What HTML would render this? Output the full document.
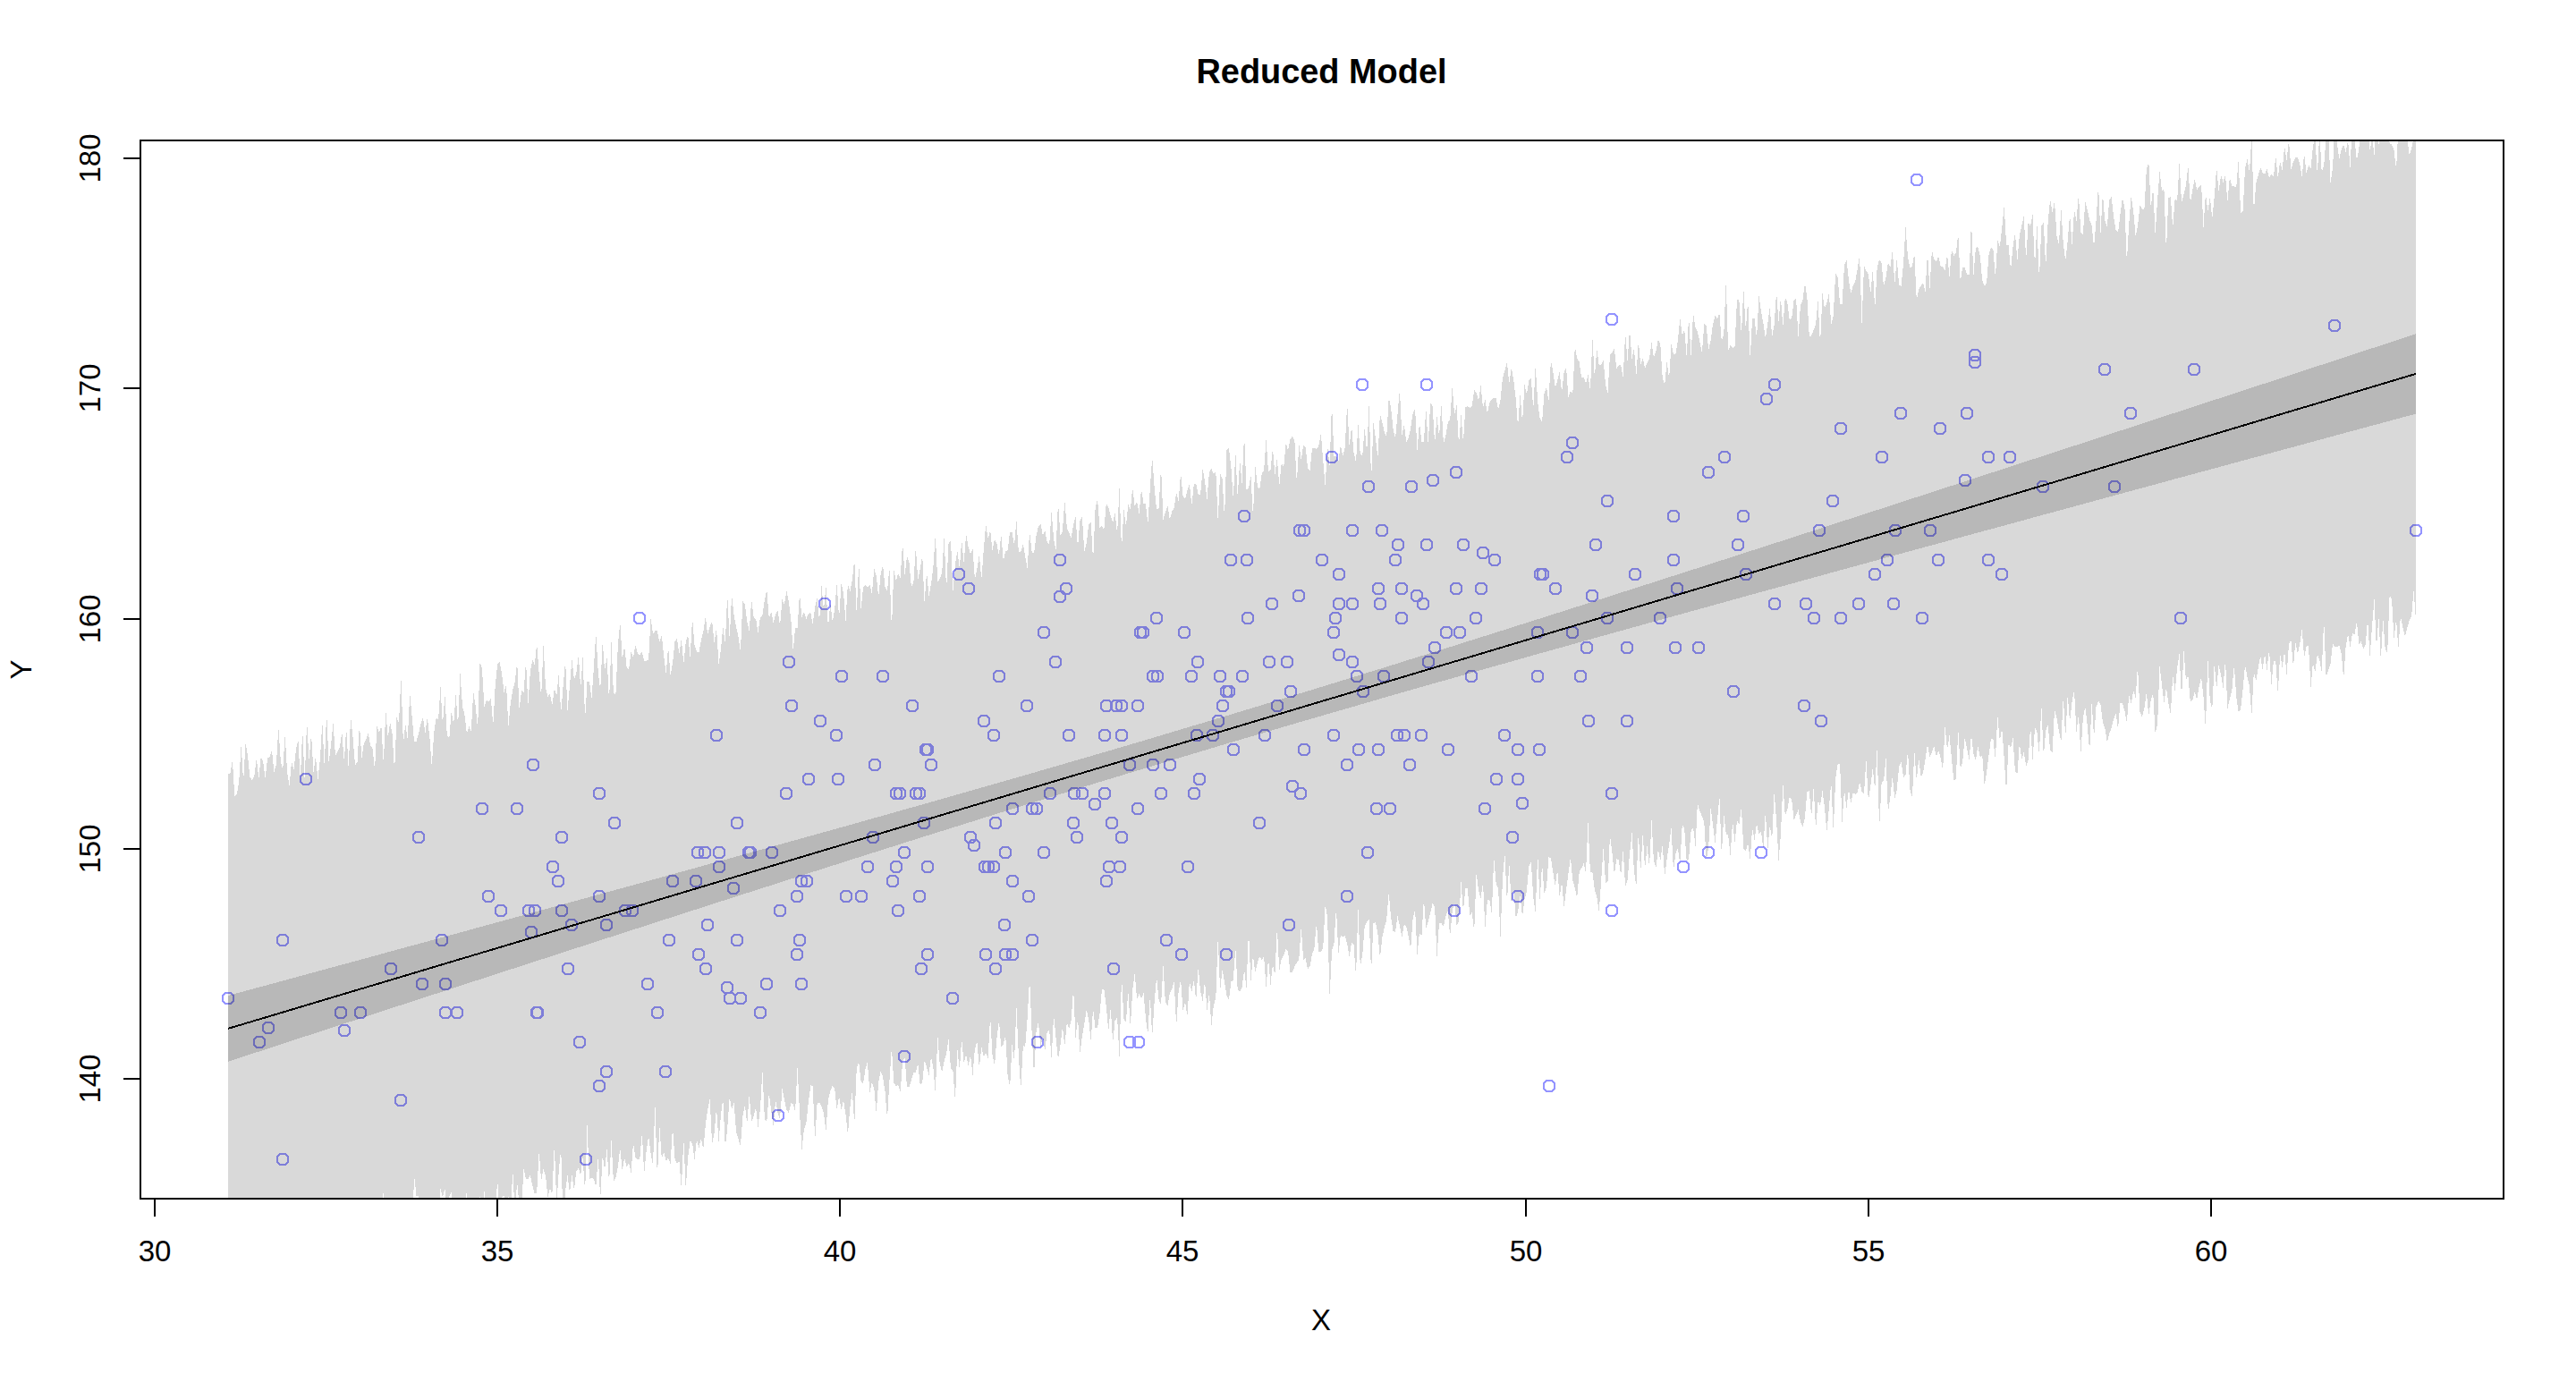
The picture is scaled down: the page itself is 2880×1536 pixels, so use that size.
<!DOCTYPE html><html><head><meta charset="utf-8"><style>html,body{margin:0;padding:0;background:#fff;overflow:hidden}svg{display:block}text{font-family:"Liberation Sans",sans-serif;fill:#000}</style></head><body>
<svg width="2880" height="1536" viewBox="0 0 2880 1536">
<rect width="2880" height="1536" fill="#fff"/>
<defs><clipPath id="cp"><rect x="157" y="157" width="2642" height="1183"/></clipPath></defs>
<path fill="none" stroke="#9494FF" stroke-width="2" shape-rendering="crispEdges" d="M2140,195h6l3,3v6l-3,3h-6l-3-3v-6zM1799,351h6l3,3v6l-3,3h-6l-3-3v-6zM1520,424h6l3,3v6l-3,3h-6l-3-3v-6zM1592,424h6l3,3v6l-3,3h-6l-3-3v-6zM1981,424h6l3,3v6l-3,3h-6l-3-3v-6zM1972,440h6l3,3v6l-3,3h-6l-3-3v-6zM2122,456h6l3,3v6l-3,3h-6l-3-3v-6zM2055,473h6l3,3v6l-3,3h-6l-3-3v-6zM1755,489h6l3,3v6l-3,3h-6l-3-3v-6zM2607,358h6l3,3v6l-3,3h-6l-3-3v-6zM2205,391h6l3,3v6l-3,3h-6l-3-3v-6zM2205,399h6l3,3v6l-3,3h-6l-3-3v-6zM2350,407h6l3,3v6l-3,3h-6l-3-3v-6zM2450,407h6l3,3v6l-3,3h-6l-3-3v-6zM2196,456h6l3,3v6l-3,3h-6l-3-3v-6zM2379,456h6l3,3v6l-3,3h-6l-3-3v-6zM2166,473h6l3,3v6l-3,3h-6l-3-3v-6zM1486,505h6l3,3v6l-3,3h-6l-3-3v-6zM1388,571h6l3,3v6l-3,3h-6l-3-3v-6zM1450,587h6l3,3v6l-3,3h-6l-3-3v-6zM1455,587h6l3,3v6l-3,3h-6l-3-3v-6zM1509,587h6l3,3v6l-3,3h-6l-3-3v-6zM1182,620h6l3,3v6l-3,3h-6l-3-3v-6zM1373,620h6l3,3v6l-3,3h-6l-3-3v-6zM1391,620h6l3,3v6l-3,3h-6l-3-3v-6zM1475,620h6l3,3v6l-3,3h-6l-3-3v-6zM1069,636h6l3,3v6l-3,3h-6l-3-3v-6zM1494,636h6l3,3v6l-3,3h-6l-3-3v-6zM1080,652h6l3,3v6l-3,3h-6l-3-3v-6zM1189,652h6l3,3v6l-3,3h-6l-3-3v-6zM1182,661h6l3,3v6l-3,3h-6l-3-3v-6zM1449,660h6l3,3v6l-3,3h-6l-3-3v-6zM919,669h6l3,3v6l-3,3h-6l-3-3v-6zM1419,669h6l3,3v6l-3,3h-6l-3-3v-6zM1494,669h6l3,3v6l-3,3h-6l-3-3v-6zM1509,669h6l3,3v6l-3,3h-6l-3-3v-6zM1290,685h6l3,3v6l-3,3h-6l-3-3v-6zM1392,685h6l3,3v6l-3,3h-6l-3-3v-6zM1490,685h6l3,3v6l-3,3h-6l-3-3v-6zM1164,701h6l3,3v6l-3,3h-6l-3-3v-6zM1272,701h6l3,3v6l-3,3h-6l-3-3v-6zM1275,701h6l3,3v6l-3,3h-6l-3-3v-6zM1321,701h6l3,3v6l-3,3h-6l-3-3v-6zM1488,701h6l3,3v6l-3,3h-6l-3-3v-6zM1494,726h6l3,3v6l-3,3h-6l-3-3v-6zM879,734h6l3,3v6l-3,3h-6l-3-3v-6zM1177,734h6l3,3v6l-3,3h-6l-3-3v-6zM1336,734h6l3,3v6l-3,3h-6l-3-3v-6zM1416,734h6l3,3v6l-3,3h-6l-3-3v-6zM1436,734h6l3,3v6l-3,3h-6l-3-3v-6zM1509,734h6l3,3v6l-3,3h-6l-3-3v-6zM938,750h6l3,3v6l-3,3h-6l-3-3v-6zM984,750h6l3,3v6l-3,3h-6l-3-3v-6zM1114,750h6l3,3v6l-3,3h-6l-3-3v-6zM1286,750h6l3,3v6l-3,3h-6l-3-3v-6zM1291,750h6l3,3v6l-3,3h-6l-3-3v-6zM1329,750h6l3,3v6l-3,3h-6l-3-3v-6zM1361,750h6l3,3v6l-3,3h-6l-3-3v-6zM1386,750h6l3,3v6l-3,3h-6l-3-3v-6zM1514,750h6l3,3v6l-3,3h-6l-3-3v-6zM1368,767h6l3,3v6l-3,3h-6l-3-3v-6zM1371,767h6l3,3v6l-3,3h-6l-3-3v-6zM1440,767h6l3,3v6l-3,3h-6l-3-3v-6zM882,783h6l3,3v6l-3,3h-6l-3-3v-6zM1017,783h6l3,3v6l-3,3h-6l-3-3v-6zM1145,783h6l3,3v6l-3,3h-6l-3-3v-6zM1234,783h6l3,3v6l-3,3h-6l-3-3v-6zM1245,783h6l3,3v6l-3,3h-6l-3-3v-6zM1251,783h6l3,3v6l-3,3h-6l-3-3v-6zM1269,783h6l3,3v6l-3,3h-6l-3-3v-6zM1364,783h6l3,3v6l-3,3h-6l-3-3v-6zM1425,783h6l3,3v6l-3,3h-6l-3-3v-6zM914,800h6l3,3v6l-3,3h-6l-3-3v-6zM1097,800h6l3,3v6l-3,3h-6l-3-3v-6zM1359,800h6l3,3v6l-3,3h-6l-3-3v-6zM1749,505h6l3,3v6l-3,3h-6l-3-3v-6zM1925,505h6l3,3v6l-3,3h-6l-3-3v-6zM2101,505h6l3,3v6l-3,3h-6l-3-3v-6zM1625,522h6l3,3v6l-3,3h-6l-3-3v-6zM1907,522h6l3,3v6l-3,3h-6l-3-3v-6zM1599,531h6l3,3v6l-3,3h-6l-3-3v-6zM1527,538h6l3,3v6l-3,3h-6l-3-3v-6zM1575,538h6l3,3v6l-3,3h-6l-3-3v-6zM1794,554h6l3,3v6l-3,3h-6l-3-3v-6zM2046,554h6l3,3v6l-3,3h-6l-3-3v-6zM1868,571h6l3,3v6l-3,3h-6l-3-3v-6zM1946,571h6l3,3v6l-3,3h-6l-3-3v-6zM1542,587h6l3,3v6l-3,3h-6l-3-3v-6zM2031,587h6l3,3v6l-3,3h-6l-3-3v-6zM2116,587h6l3,3v6l-3,3h-6l-3-3v-6zM2155,587h6l3,3v6l-3,3h-6l-3-3v-6zM1560,603h6l3,3v6l-3,3h-6l-3-3v-6zM1592,603h6l3,3v6l-3,3h-6l-3-3v-6zM1633,603h6l3,3v6l-3,3h-6l-3-3v-6zM1781,603h6l3,3v6l-3,3h-6l-3-3v-6zM1940,603h6l3,3v6l-3,3h-6l-3-3v-6zM1655,612h6l3,3v6l-3,3h-6l-3-3v-6zM1557,620h6l3,3v6l-3,3h-6l-3-3v-6zM1668,620h6l3,3v6l-3,3h-6l-3-3v-6zM1868,620h6l3,3v6l-3,3h-6l-3-3v-6zM2107,620h6l3,3v6l-3,3h-6l-3-3v-6zM1719,636h6l3,3v6l-3,3h-6l-3-3v-6zM1722,636h6l3,3v6l-3,3h-6l-3-3v-6zM1825,636h6l3,3v6l-3,3h-6l-3-3v-6zM1949,636h6l3,3v6l-3,3h-6l-3-3v-6zM2093,636h6l3,3v6l-3,3h-6l-3-3v-6zM1538,652h6l3,3v6l-3,3h-6l-3-3v-6zM1564,652h6l3,3v6l-3,3h-6l-3-3v-6zM1625,652h6l3,3v6l-3,3h-6l-3-3v-6zM1653,652h6l3,3v6l-3,3h-6l-3-3v-6zM1736,652h6l3,3v6l-3,3h-6l-3-3v-6zM1872,652h6l3,3v6l-3,3h-6l-3-3v-6zM1581,660h6l3,3v6l-3,3h-6l-3-3v-6zM1777,660h6l3,3v6l-3,3h-6l-3-3v-6zM1540,669h6l3,3v6l-3,3h-6l-3-3v-6zM1588,669h6l3,3v6l-3,3h-6l-3-3v-6zM1981,669h6l3,3v6l-3,3h-6l-3-3v-6zM2016,669h6l3,3v6l-3,3h-6l-3-3v-6zM2075,669h6l3,3v6l-3,3h-6l-3-3v-6zM2114,669h6l3,3v6l-3,3h-6l-3-3v-6zM1564,685h6l3,3v6l-3,3h-6l-3-3v-6zM1647,685h6l3,3v6l-3,3h-6l-3-3v-6zM1794,685h6l3,3v6l-3,3h-6l-3-3v-6zM1853,685h6l3,3v6l-3,3h-6l-3-3v-6zM2025,685h6l3,3v6l-3,3h-6l-3-3v-6zM2055,685h6l3,3v6l-3,3h-6l-3-3v-6zM2146,685h6l3,3v6l-3,3h-6l-3-3v-6zM1614,701h6l3,3v6l-3,3h-6l-3-3v-6zM1629,701h6l3,3v6l-3,3h-6l-3-3v-6zM1716,701h6l3,3v6l-3,3h-6l-3-3v-6zM1755,701h6l3,3v6l-3,3h-6l-3-3v-6zM1601,718h6l3,3v6l-3,3h-6l-3-3v-6zM1771,718h6l3,3v6l-3,3h-6l-3-3v-6zM1816,718h6l3,3v6l-3,3h-6l-3-3v-6zM1870,718h6l3,3v6l-3,3h-6l-3-3v-6zM1896,718h6l3,3v6l-3,3h-6l-3-3v-6zM1594,734h6l3,3v6l-3,3h-6l-3-3v-6zM1544,750h6l3,3v6l-3,3h-6l-3-3v-6zM1642,750h6l3,3v6l-3,3h-6l-3-3v-6zM1716,750h6l3,3v6l-3,3h-6l-3-3v-6zM1764,750h6l3,3v6l-3,3h-6l-3-3v-6zM1521,767h6l3,3v6l-3,3h-6l-3-3v-6zM1935,767h6l3,3v6l-3,3h-6l-3-3v-6zM2014,783h6l3,3v6l-3,3h-6l-3-3v-6zM1773,800h6l3,3v6l-3,3h-6l-3-3v-6zM1816,800h6l3,3v6l-3,3h-6l-3-3v-6zM2033,800h6l3,3v6l-3,3h-6l-3-3v-6zM2220,505h6l3,3v6l-3,3h-6l-3-3v-6zM2244,505h6l3,3v6l-3,3h-6l-3-3v-6zM2194,531h6l3,3v6l-3,3h-6l-3-3v-6zM2281,538h6l3,3v6l-3,3h-6l-3-3v-6zM2361,538h6l3,3v6l-3,3h-6l-3-3v-6zM2698,587h6l3,3v6l-3,3h-6l-3-3v-6zM2164,620h6l3,3v6l-3,3h-6l-3-3v-6zM2220,620h6l3,3v6l-3,3h-6l-3-3v-6zM2235,636h6l3,3v6l-3,3h-6l-3-3v-6zM2435,685h6l3,3v6l-3,3h-6l-3-3v-6zM712,685h6l3,3v6l-3,3h-6l-3-3v-6zM798,816h6l3,3v6l-3,3h-6l-3-3v-6zM593,849h6l3,3v6l-3,3h-6l-3-3v-6zM339,865h6l3,3v6l-3,3h-6l-3-3v-6zM667,881h6l3,3v6l-3,3h-6l-3-3v-6zM876,881h6l3,3v6l-3,3h-6l-3-3v-6zM536,898h6l3,3v6l-3,3h-6l-3-3v-6zM575,898h6l3,3v6l-3,3h-6l-3-3v-6zM684,914h6l3,3v6l-3,3h-6l-3-3v-6zM821,914h6l3,3v6l-3,3h-6l-3-3v-6zM465,930h6l3,3v6l-3,3h-6l-3-3v-6zM625,930h6l3,3v6l-3,3h-6l-3-3v-6zM777,947h6l3,3v6l-3,3h-6l-3-3v-6zM785,947h6l3,3v6l-3,3h-6l-3-3v-6zM801,947h6l3,3v6l-3,3h-6l-3-3v-6zM834,947h6l3,3v6l-3,3h-6l-3-3v-6zM836,947h6l3,3v6l-3,3h-6l-3-3v-6zM860,947h6l3,3v6l-3,3h-6l-3-3v-6zM615,963h6l3,3v6l-3,3h-6l-3-3v-6zM801,963h6l3,3v6l-3,3h-6l-3-3v-6zM621,979h6l3,3v6l-3,3h-6l-3-3v-6zM749,979h6l3,3v6l-3,3h-6l-3-3v-6zM775,979h6l3,3v6l-3,3h-6l-3-3v-6zM817,987h6l3,3v6l-3,3h-6l-3-3v-6zM543,996h6l3,3v6l-3,3h-6l-3-3v-6zM667,996h6l3,3v6l-3,3h-6l-3-3v-6zM557,1012h6l3,3v6l-3,3h-6l-3-3v-6zM588,1012h6l3,3v6l-3,3h-6l-3-3v-6zM595,1012h6l3,3v6l-3,3h-6l-3-3v-6zM625,1012h6l3,3v6l-3,3h-6l-3-3v-6zM696,1012h6l3,3v6l-3,3h-6l-3-3v-6zM704,1012h6l3,3v6l-3,3h-6l-3-3v-6zM869,1012h6l3,3v6l-3,3h-6l-3-3v-6zM636,1028h6l3,3v6l-3,3h-6l-3-3v-6zM675,1028h6l3,3v6l-3,3h-6l-3-3v-6zM788,1028h6l3,3v6l-3,3h-6l-3-3v-6zM591,1036h6l3,3v6l-3,3h-6l-3-3v-6zM313,1045h6l3,3v6l-3,3h-6l-3-3v-6zM491,1045h6l3,3v6l-3,3h-6l-3-3v-6zM745,1045h6l3,3v6l-3,3h-6l-3-3v-6zM821,1045h6l3,3v6l-3,3h-6l-3-3v-6zM778,1061h6l3,3v6l-3,3h-6l-3-3v-6zM434,1077h6l3,3v6l-3,3h-6l-3-3v-6zM632,1077h6l3,3v6l-3,3h-6l-3-3v-6zM786,1077h6l3,3v6l-3,3h-6l-3-3v-6zM469,1094h6l3,3v6l-3,3h-6l-3-3v-6zM495,1094h6l3,3v6l-3,3h-6l-3-3v-6zM721,1094h6l3,3v6l-3,3h-6l-3-3v-6zM854,1094h6l3,3v6l-3,3h-6l-3-3v-6zM810,1098h6l3,3v6l-3,3h-6l-3-3v-6zM252,1110h6l3,3v6l-3,3h-6l-3-3v-6zM813,1110h6l3,3v6l-3,3h-6l-3-3v-6zM825,1110h6l3,3v6l-3,3h-6l-3-3v-6zM378,1126h6l3,3v6l-3,3h-6l-3-3v-6zM400,1126h6l3,3v6l-3,3h-6l-3-3v-6zM495,1126h6l3,3v6l-3,3h-6l-3-3v-6zM508,1126h6l3,3v6l-3,3h-6l-3-3v-6zM597,1126h6l3,3v6l-3,3h-6l-3-3v-6zM598,1126h6l3,3v6l-3,3h-6l-3-3v-6zM732,1126h6l3,3v6l-3,3h-6l-3-3v-6zM847,1126h6l3,3v6l-3,3h-6l-3-3v-6zM932,816h6l3,3v6l-3,3h-6l-3-3v-6zM1108,816h6l3,3v6l-3,3h-6l-3-3v-6zM1192,816h6l3,3v6l-3,3h-6l-3-3v-6zM1232,816h6l3,3v6l-3,3h-6l-3-3v-6zM1251,816h6l3,3v6l-3,3h-6l-3-3v-6zM1335,816h6l3,3v6l-3,3h-6l-3-3v-6zM1353,816h6l3,3v6l-3,3h-6l-3-3v-6zM1411,816h6l3,3v6l-3,3h-6l-3-3v-6zM1488,816h6l3,3v6l-3,3h-6l-3-3v-6zM1032,832h6l3,3v6l-3,3h-6l-3-3v-6zM1034,832h6l3,3v6l-3,3h-6l-3-3v-6zM1376,832h6l3,3v6l-3,3h-6l-3-3v-6zM1455,832h6l3,3v6l-3,3h-6l-3-3v-6zM1516,832h6l3,3v6l-3,3h-6l-3-3v-6zM975,849h6l3,3v6l-3,3h-6l-3-3v-6zM1038,849h6l3,3v6l-3,3h-6l-3-3v-6zM1260,849h6l3,3v6l-3,3h-6l-3-3v-6zM1286,849h6l3,3v6l-3,3h-6l-3-3v-6zM1305,849h6l3,3v6l-3,3h-6l-3-3v-6zM1503,849h6l3,3v6l-3,3h-6l-3-3v-6zM901,865h6l3,3v6l-3,3h-6l-3-3v-6zM934,865h6l3,3v6l-3,3h-6l-3-3v-6zM1338,865h6l3,3v6l-3,3h-6l-3-3v-6zM1442,873h6l3,3v6l-3,3h-6l-3-3v-6zM999,881h6l3,3v6l-3,3h-6l-3-3v-6zM1003,881h6l3,3v6l-3,3h-6l-3-3v-6zM1021,881h6l3,3v6l-3,3h-6l-3-3v-6zM1025,881h6l3,3v6l-3,3h-6l-3-3v-6zM1171,881h6l3,3v6l-3,3h-6l-3-3v-6zM1198,881h6l3,3v6l-3,3h-6l-3-3v-6zM1207,881h6l3,3v6l-3,3h-6l-3-3v-6zM1232,881h6l3,3v6l-3,3h-6l-3-3v-6zM1295,881h6l3,3v6l-3,3h-6l-3-3v-6zM1332,881h6l3,3v6l-3,3h-6l-3-3v-6zM1451,881h6l3,3v6l-3,3h-6l-3-3v-6zM1221,893h6l3,3v6l-3,3h-6l-3-3v-6zM1129,898h6l3,3v6l-3,3h-6l-3-3v-6zM1151,898h6l3,3v6l-3,3h-6l-3-3v-6zM1156,898h6l3,3v6l-3,3h-6l-3-3v-6zM1269,898h6l3,3v6l-3,3h-6l-3-3v-6zM1030,914h6l3,3v6l-3,3h-6l-3-3v-6zM1110,914h6l3,3v6l-3,3h-6l-3-3v-6zM1197,914h6l3,3v6l-3,3h-6l-3-3v-6zM1240,914h6l3,3v6l-3,3h-6l-3-3v-6zM1405,914h6l3,3v6l-3,3h-6l-3-3v-6zM973,930h6l3,3v6l-3,3h-6l-3-3v-6zM1082,930h6l3,3v6l-3,3h-6l-3-3v-6zM1201,930h6l3,3v6l-3,3h-6l-3-3v-6zM1251,930h6l3,3v6l-3,3h-6l-3-3v-6zM1086,939h6l3,3v6l-3,3h-6l-3-3v-6zM1008,947h6l3,3v6l-3,3h-6l-3-3v-6zM1121,947h6l3,3v6l-3,3h-6l-3-3v-6zM1164,947h6l3,3v6l-3,3h-6l-3-3v-6zM967,963h6l3,3v6l-3,3h-6l-3-3v-6zM999,963h6l3,3v6l-3,3h-6l-3-3v-6zM1034,963h6l3,3v6l-3,3h-6l-3-3v-6zM1098,963h6l3,3v6l-3,3h-6l-3-3v-6zM1102,963h6l3,3v6l-3,3h-6l-3-3v-6zM1108,963h6l3,3v6l-3,3h-6l-3-3v-6zM1237,963h6l3,3v6l-3,3h-6l-3-3v-6zM1249,963h6l3,3v6l-3,3h-6l-3-3v-6zM1325,963h6l3,3v6l-3,3h-6l-3-3v-6zM893,979h6l3,3v6l-3,3h-6l-3-3v-6zM899,979h6l3,3v6l-3,3h-6l-3-3v-6zM995,979h6l3,3v6l-3,3h-6l-3-3v-6zM1129,979h6l3,3v6l-3,3h-6l-3-3v-6zM1234,979h6l3,3v6l-3,3h-6l-3-3v-6zM888,996h6l3,3v6l-3,3h-6l-3-3v-6zM943,996h6l3,3v6l-3,3h-6l-3-3v-6zM960,996h6l3,3v6l-3,3h-6l-3-3v-6zM1025,996h6l3,3v6l-3,3h-6l-3-3v-6zM1147,996h6l3,3v6l-3,3h-6l-3-3v-6zM1503,996h6l3,3v6l-3,3h-6l-3-3v-6zM1001,1012h6l3,3v6l-3,3h-6l-3-3v-6zM1120,1028h6l3,3v6l-3,3h-6l-3-3v-6zM1438,1028h6l3,3v6l-3,3h-6l-3-3v-6zM891,1045h6l3,3v6l-3,3h-6l-3-3v-6zM1151,1045h6l3,3v6l-3,3h-6l-3-3v-6zM1301,1045h6l3,3v6l-3,3h-6l-3-3v-6zM888,1061h6l3,3v6l-3,3h-6l-3-3v-6zM1034,1061h6l3,3v6l-3,3h-6l-3-3v-6zM1099,1061h6l3,3v6l-3,3h-6l-3-3v-6zM1121,1061h6l3,3v6l-3,3h-6l-3-3v-6zM1129,1061h6l3,3v6l-3,3h-6l-3-3v-6zM1318,1061h6l3,3v6l-3,3h-6l-3-3v-6zM1368,1061h6l3,3v6l-3,3h-6l-3-3v-6zM1027,1077h6l3,3v6l-3,3h-6l-3-3v-6zM1110,1077h6l3,3v6l-3,3h-6l-3-3v-6zM1242,1077h6l3,3v6l-3,3h-6l-3-3v-6zM893,1094h6l3,3v6l-3,3h-6l-3-3v-6zM1062,1110h6l3,3v6l-3,3h-6l-3-3v-6zM1559,816h6l3,3v6l-3,3h-6l-3-3v-6zM1567,816h6l3,3v6l-3,3h-6l-3-3v-6zM1586,816h6l3,3v6l-3,3h-6l-3-3v-6zM1679,816h6l3,3v6l-3,3h-6l-3-3v-6zM1538,832h6l3,3v6l-3,3h-6l-3-3v-6zM1616,832h6l3,3v6l-3,3h-6l-3-3v-6zM1694,832h6l3,3v6l-3,3h-6l-3-3v-6zM1718,832h6l3,3v6l-3,3h-6l-3-3v-6zM1573,849h6l3,3v6l-3,3h-6l-3-3v-6zM1670,865h6l3,3v6l-3,3h-6l-3-3v-6zM1694,865h6l3,3v6l-3,3h-6l-3-3v-6zM1799,881h6l3,3v6l-3,3h-6l-3-3v-6zM1699,892h6l3,3v6l-3,3h-6l-3-3v-6zM1536,898h6l3,3v6l-3,3h-6l-3-3v-6zM1551,898h6l3,3v6l-3,3h-6l-3-3v-6zM1657,898h6l3,3v6l-3,3h-6l-3-3v-6zM1688,930h6l3,3v6l-3,3h-6l-3-3v-6zM1526,947h6l3,3v6l-3,3h-6l-3-3v-6zM1907,947h6l3,3v6l-3,3h-6l-3-3v-6zM1966,947h6l3,3v6l-3,3h-6l-3-3v-6zM1879,963h6l3,3v6l-3,3h-6l-3-3v-6zM1694,996h6l3,3v6l-3,3h-6l-3-3v-6zM1623,1012h6l3,3v6l-3,3h-6l-3-3v-6zM1799,1012h6l3,3v6l-3,3h-6l-3-3v-6zM297,1143h6l3,3v6l-3,3h-6l-3-3v-6zM287,1159h6l3,3v6l-3,3h-6l-3-3v-6zM382,1146h6l3,3v6l-3,3h-6l-3-3v-6zM645,1159h6l3,3v6l-3,3h-6l-3-3v-6zM675,1192h6l3,3v6l-3,3h-6l-3-3v-6zM741,1192h6l3,3v6l-3,3h-6l-3-3v-6zM667,1208h6l3,3v6l-3,3h-6l-3-3v-6zM445,1224h6l3,3v6l-3,3h-6l-3-3v-6zM867,1241h6l3,3v6l-3,3h-6l-3-3v-6zM313,1290h6l3,3v6l-3,3h-6l-3-3v-6zM652,1290h6l3,3v6l-3,3h-6l-3-3v-6zM1008,1175h6l3,3v6l-3,3h-6l-3-3v-6zM1157,1159h6l3,3v6l-3,3h-6l-3-3v-6zM1260,1159h6l3,3v6l-3,3h-6l-3-3v-6zM1270,1159h6l3,3v6l-3,3h-6l-3-3v-6zM1729,1208h6l3,3v6l-3,3h-6l-3-3v-6z"/>
<line x1="255" y1="1149.9" x2="2701" y2="417.9" stroke="#000" stroke-width="2" shape-rendering="crispEdges"/>
<g clip-path="url(#cp)" fill="#000" fill-opacity="0.15" shape-rendering="crispEdges">
<path d="M255,1113 279.5,1106.4 303.9,1099.8 328.4,1093.1 352.8,1086.5 377.3,1079.8 401.8,1073.2 426.2,1066.5 450.7,1059.8 475.1,1053.2 499.6,1046.5 524.1,1039.8 548.5,1033.1 573,1026.4 597.4,1019.7 621.9,1013 646.4,1006.3 670.8,999.6 695.3,992.9 719.7,986.2 744.2,979.4 768.7,972.7 793.1,965.9 817.6,959.1 842,952.3 866.5,945.5 891,938.7 915.4,931.9 939.9,925.1 964.3,918.2 988.8,911.3 1013.3,904.4 1037.7,897.5 1062.2,890.5 1086.6,883.6 1111.1,876.6 1135.6,869.6 1160,862.5 1184.5,855.4 1208.9,848.3 1233.4,841.2 1257.9,834 1282.3,826.8 1306.8,819.5 1331.2,812.2 1355.7,804.9 1380.2,797.5 1404.6,790.1 1429.1,782.7 1453.5,775.2 1478,767.7 1502.5,760.2 1526.9,752.6 1551.4,745.1 1575.8,737.4 1600.3,729.8 1624.8,722.1 1649.2,714.4 1673.7,706.7 1698.1,698.9 1722.6,691.2 1747.1,683.4 1771.5,675.6 1796,667.8 1820.4,659.9 1844.9,652.1 1869.4,644.2 1893.8,636.4 1918.3,628.5 1942.7,620.6 1967.2,612.7 1991.7,604.8 2016.1,596.9 2040.6,589 2065,581 2089.5,573.1 2114,565.1 2138.4,557.2 2162.9,549.2 2187.3,541.3 2211.8,533.3 2236.3,525.3 2260.7,517.3 2285.2,509.4 2309.6,501.4 2334.1,493.4 2358.6,485.4 2383,477.4 2407.5,469.4 2431.9,461.4 2456.4,453.4 2480.9,445.4 2505.3,437.4 2529.8,429.4 2554.2,421.4 2578.7,413.4 2603.2,405.3 2627.6,397.3 2652.1,389.3 2676.5,381.3 2701,373.2 L2701,462.6 2676.5,469.2 2652.1,475.8 2627.6,482.4 2603.2,489 2578.7,495.7 2554.2,502.3 2529.8,508.9 2505.3,515.5 2480.9,522.2 2456.4,528.8 2431.9,535.4 2407.5,542.1 2383,548.7 2358.6,555.4 2334.1,562 2309.6,568.7 2285.2,575.3 2260.7,582 2236.3,588.7 2211.8,595.3 2187.3,602 2162.9,608.7 2138.4,615.3 2114,622 2089.5,628.7 2065,635.4 2040.6,642.1 2016.1,648.9 1991.7,655.6 1967.2,662.3 1942.7,669 1918.3,675.8 1893.8,682.6 1869.4,689.3 1844.9,696.1 1820.4,702.9 1796,709.7 1771.5,716.5 1747.1,723.4 1722.6,730.2 1698.1,737.1 1673.7,744 1649.2,750.9 1624.8,757.9 1600.3,764.8 1575.8,771.8 1551.4,778.8 1526.9,785.9 1502.5,793 1478,800.1 1453.5,807.2 1429.1,814.4 1404.6,821.6 1380.2,828.8 1355.7,836.1 1331.2,843.4 1306.8,850.8 1282.3,858.2 1257.9,865.6 1233.4,873 1208.9,880.5 1184.5,888.1 1160,895.6 1135.6,903.2 1111.1,910.8 1086.6,918.5 1062.2,926.1 1037.7,933.8 1013.3,941.5 988.8,949.3 964.3,957 939.9,964.8 915.4,972.6 891,980.4 866.5,988.3 842,996.1 817.6,1003.9 793.1,1011.8 768.7,1019.7 744.2,1027.6 719.7,1035.5 695.3,1043.4 670.8,1051.3 646.4,1059.2 621.9,1067.2 597.4,1075.1 573,1083 548.5,1091 524.1,1098.9 499.6,1106.9 475.1,1114.9 450.7,1122.8 426.2,1130.8 401.8,1138.8 377.3,1146.8 352.8,1154.8 328.4,1162.8 303.9,1170.8 279.5,1178.8 255,1186.8Z"/>
<path d="M255,864.8 257.4,864.6 259.9,849.8 262.3,889.9 264.8,887.7 267.2,874.1 269.7,832.2 272.1,874.9 274.6,830.2 277,845.5 279.5,868.7 281.9,872.3 284.4,867.3 286.8,847.2 289.3,870.8 291.7,846.5 294.2,851.3 296.6,870.1 299.1,847.8 301.5,845.6 304,839.1 306.4,863 308.9,854.7 311.3,812.8 313.8,850.2 316.2,861.5 318.7,821.6 321.1,863.5 323.6,878.2 326,851 328.5,860.2 330.9,838.1 333.4,827.1 335.8,871.5 338.2,815.8 340.7,873.1 343.1,805.5 345.6,849.9 348,819.7 350.5,863.4 352.9,845.5 355.4,871.7 357.8,849.5 360.3,807 362.7,856.8 365.2,797.4 367.6,853 370.1,831.8 372.5,808.5 375,845 377.4,839.8 379.9,834.9 382.3,818.6 384.8,851.9 387.2,812.7 389.7,858.9 392.1,801.3 394.6,825.2 397,855.5 399.5,851.9 401.9,810.2 404.4,847.8 406.8,831.4 409.3,826.8 411.7,819.5 414.1,833.7 416.6,836.8 419,861 421.5,811.5 423.9,819.1 426.4,811.9 428.8,854.6 431.3,794.7 433.7,824.4 436.2,807.1 438.6,820.6 441.1,862.8 443.5,802.4 446,808.2 448.4,757.5 450.9,831.5 453.3,809.2 455.8,826.9 458.2,775.1 460.7,801.5 463.1,829.5 465.6,828.7 468,819.8 470.5,808.9 472.9,801.7 475.4,819.9 477.8,801.5 480.3,823.5 482.7,856.7 485.2,819.3 487.6,802.9 490.1,804 492.5,768.3 494.9,810.4 497.4,776.8 499.8,822 502.3,825.4 504.7,795.2 507.2,809.8 509.6,775.9 512.1,812.7 514.5,752.8 517,789.6 519.4,798.8 521.9,820 524.3,812 526.8,817.6 529.2,773 531.7,789.4 534.1,814.9 536.6,739.7 539,747.8 541.5,790.5 543.9,783.2 546.4,784.3 548.8,780.7 551.3,811.1 553.7,767.1 556.2,742.3 558.6,739.8 561.1,753.7 563.5,773.7 566,765 568.4,811.9 570.8,786 573.3,770.7 575.7,762.8 578.2,740.3 580.6,792.6 583.1,771.9 585.5,774.3 588,739 590.4,788 592.9,750.7 595.3,737.4 597.8,743.7 600.2,719.4 602.7,753 605.1,779.6 607.6,719.8 610,769.5 612.5,778.5 614.9,775.5 617.4,788.1 619.8,769.7 622.3,777.9 624.7,753.3 627.2,797.3 629.6,767.2 632.1,738.5 634.5,794.1 637,766.8 639.4,736.7 641.9,760 644.3,752.7 646.8,732.3 649.2,769.8 651.6,734.1 654.1,803.8 656.5,762.5 659,761.4 661.4,781.9 663.9,746.2 666.3,707.9 668.8,752.6 671.2,771.8 673.7,716.6 676.1,749.7 678.6,735.2 681,784.8 683.5,717.8 685.9,775 688.4,776.6 690.8,722 693.3,695.5 695.7,736.8 698.2,722.7 700.6,745.7 703.1,748.6 705.5,728.6 708,735.3 710.4,721.1 712.9,730.7 715.3,732.1 717.8,728.7 720.2,739.1 722.7,738.6 725.1,738.1 727.6,690.6 730,709.1 732.4,705.3 734.9,705.5 737.3,717.9 739.8,709.6 742.2,734 744.7,753 747.1,722.2 749.6,755 752,741.6 754.5,717.5 756.9,713.8 759.4,730.9 761.8,714 764.3,742.3 766.7,718.6 769.2,709.2 771.6,734.9 774.1,691.2 776.5,721 779,728.8 781.4,729.4 783.9,715.8 786.3,706 788.8,689.1 791.2,709.5 793.7,700 796.1,694.3 798.6,718.6 801,701.9 803.5,742.3 805.9,726.9 808.3,700.6 810.8,719.2 813.2,664.9 815.7,714.7 818.1,664.9 820.6,688.1 823,700.5 825.5,711.9 827.9,728.5 830.4,671.5 832.8,675.8 835.3,694.6 837.7,705.3 840.2,670 842.6,690.1 845.1,692 847.5,706.6 850,690.1 852.4,687.6 854.9,670.8 857.3,659.6 859.8,691.9 862.2,683.2 864.7,696.6 867.1,686 869.6,683.1 872,699.9 874.5,670.1 876.9,676.3 879.4,660.8 881.8,672.5 884.3,692.1 886.7,727.3 889.1,702.2 891.6,701.7 894,663.6 896.5,690 898.9,683.6 901.4,691.8 903.8,685.9 906.3,685.2 908.7,697.9 911.2,678.5 913.6,668.3 916.1,695.3 918.5,655.2 921,682.2 923.4,654.4 925.9,702.5 928.3,673.8 930.8,696 933.2,680.4 935.7,652.3 938.1,692.1 940.6,651.2 943,663 945.5,693.7 947.9,652.1 950.4,661.9 952.8,648.1 955.3,625.3 957.7,686.9 960.2,628.8 962.6,681.7 965.1,656.2 967.5,654.3 969.9,656.4 972.4,653.8 974.8,663.8 977.3,635.7 979.7,643.3 982.2,667.6 984.6,642.1 987.1,632.1 989.5,656 992,660.7 994.4,634.5 996.9,703.8 999.3,636.7 1001.8,649.5 1004.2,640.9 1006.7,646 1009.1,606.4 1011.6,643.4 1014,621.9 1016.5,629 1018.9,656.2 1021.4,650.7 1023.8,611.6 1026.3,648.2 1028.7,636.4 1031.2,620.1 1033.6,674.1 1036.1,639.1 1038.5,666.2 1041,652.7 1043.4,633.6 1045.8,597.7 1048.3,650.5 1050.7,646.7 1053.2,640 1055.6,600.3 1058.1,659.4 1060.5,608.4 1063,603.7 1065.4,661.2 1067.9,631.5 1070.3,615.5 1072.8,635.7 1075.2,604.1 1077.7,629.5 1080.1,596.8 1082.6,611.4 1085,619.2 1087.5,613.7 1089.9,647.9 1092.4,636.2 1094.8,620 1097.3,648.1 1099.7,615.6 1102.2,586.4 1104.6,602.1 1107.1,592.3 1109.5,614.9 1112,602.5 1114.4,607.3 1116.9,621.5 1119.3,597.7 1121.8,627.5 1124.2,616 1126.6,615.1 1129.1,594.6 1131.5,594.7 1134,610.3 1136.4,581.4 1138.9,617.5 1141.3,617.1 1143.8,608 1146.2,621.8 1148.7,635.7 1151.1,594.2 1153.6,617.2 1156,618.7 1158.5,599.4 1160.9,588.8 1163.4,585.5 1165.8,598.1 1168.3,593.1 1170.7,605.7 1173.2,608.4 1175.6,571.3 1178.1,603 1180.5,614.5 1183,560.9 1185.4,598.1 1187.9,594.7 1190.3,559 1192.8,589.9 1195.2,595.6 1197.7,601.3 1200.1,586.3 1202.5,577.9 1205,612.3 1207.4,582.4 1209.9,577.6 1212.3,617 1214.8,607.2 1217.2,586.1 1219.7,583.5 1222.1,628.3 1224.6,568.2 1227,557.9 1229.5,589.7 1231.9,588.2 1234.4,592 1236.8,562.1 1239.3,567.3 1241.7,576.2 1244.2,584.7 1246.6,573.3 1249.1,597.2 1251.5,546 1254,615.1 1256.4,569.4 1258.9,588.8 1261.3,563.3 1263.8,570.1 1266.2,545.5 1268.7,566.1 1271.1,560.6 1273.6,574.1 1276,546.7 1278.5,562.6 1280.9,563.1 1283.3,585.9 1285.8,545.8 1288.2,511 1290.7,545.5 1293.1,569.7 1295.6,567.8 1298,521.2 1300.5,580.9 1302.9,572.4 1305.4,565.1 1307.8,580.9 1310.3,571.6 1312.7,567.9 1315.2,550.5 1317.6,560.8 1320.1,528.3 1322.5,554.3 1325,558.2 1327.4,548.1 1329.9,540.4 1332.3,565.3 1334.8,541.2 1337.2,540.9 1339.7,552.4 1342.1,553.1 1344.6,523.8 1347,537.5 1349.5,558.3 1351.9,527.9 1354.4,523.4 1356.8,530.3 1359.3,526.5 1361.7,583.1 1364.1,529.3 1366.6,535.4 1369,579.6 1371.5,502.9 1373.9,500.6 1376.4,522.8 1378.8,558.8 1381.3,505 1383.7,555.8 1386.2,515.1 1388.6,540.6 1391.1,484.7 1393.5,547.2 1396,546.1 1398.4,531.1 1400.9,578 1403.3,519.7 1405.8,543.2 1408.2,547.7 1410.7,529.4 1413.1,526.5 1415.6,490.6 1418,527.9 1420.5,525.1 1422.9,500.8 1425.4,530.4 1427.8,512.2 1430.3,543.1 1432.7,517.7 1435.2,522 1437.6,495.5 1440,503.3 1442.5,491.4 1444.9,487.6 1447.4,492.8 1449.8,539.8 1452.3,497 1454.7,513.8 1457.2,498 1459.6,500 1462.1,523.3 1464.5,526 1467,501.4 1469.4,501 1471.9,502.1 1474.3,498.3 1476.8,484.8 1479.2,513.8 1481.7,544.3 1484.1,497.9 1486.6,520.9 1489,450.6 1491.5,510.3 1493.9,510.2 1496.4,515.5 1498.8,498.1 1501.3,509.7 1503.7,500.7 1506.2,450.5 1508.6,498.8 1511.1,476.5 1513.5,505.6 1516,517.4 1518.4,473.6 1520.8,508.2 1523.3,508.8 1525.7,477.2 1528.2,506.7 1530.6,451.9 1533.1,537.3 1535.5,473 1538,490.6 1540.4,511.4 1542.9,462.8 1545.3,472.1 1547.8,482.8 1550.2,488.8 1552.7,444.7 1555.1,455.5 1557.6,479.6 1560,490.5 1562.5,462.8 1564.9,435.5 1567.4,486.9 1569.8,474 1572.3,494.4 1574.7,489.7 1577.2,478.5 1579.6,462 1582.1,456.6 1584.5,503.2 1587,471.8 1589.4,494.1 1591.9,493.9 1594.3,456.3 1596.7,497.1 1599.2,450.5 1601.6,453.7 1604.1,496.2 1606.5,465.8 1609,488.4 1611.4,451.7 1613.9,495.7 1616.3,487.7 1618.8,472.1 1621.2,469.6 1623.7,431.7 1626.1,464.4 1628.6,452.7 1631,498.1 1633.5,463.9 1635.9,495.2 1638.4,455.2 1640.8,454 1643.3,455.9 1645.7,454.3 1648.2,435.9 1650.6,439.2 1653.1,447.8 1655.5,430.6 1658,455.9 1660.4,446.6 1662.9,462.2 1665.3,450.4 1667.8,446.2 1670.2,444.5 1672.7,445.2 1675.1,457.9 1677.5,447.2 1680,422.5 1682.4,414.5 1684.9,404.4 1687.3,428.5 1689.8,410.9 1692.2,424.3 1694.7,445.7 1697.1,477.1 1699.6,440.5 1702,472.9 1704.5,429.9 1706.9,441.1 1709.4,424.7 1711.8,423.2 1714.3,457.7 1716.7,408.3 1719.2,449.6 1721.6,467.8 1724.1,471.5 1726.5,440.1 1729,432.8 1731.4,449.1 1733.9,402.5 1736.3,415.4 1738.8,433.2 1741.2,425.8 1743.7,415.6 1746.1,438.9 1748.6,416.5 1751,410.3 1753.5,444.5 1755.9,437.2 1758.3,440.3 1760.8,387.5 1763.2,400.7 1765.7,404.2 1768.1,422.7 1770.6,421.5 1773,429 1775.5,419.1 1777.9,437.4 1780.4,377.8 1782.8,422 1785.3,390.3 1787.7,408 1790.2,407.6 1792.6,402.4 1795.1,431 1797.5,439.1 1800,396.1 1802.4,393.8 1804.9,389.8 1807.3,411.9 1809.8,408.1 1812.2,408.1 1814.7,422.3 1817.1,372.3 1819.6,404 1822,368.1 1824.5,400.8 1826.9,389.2 1829.4,420.3 1831.8,380.8 1834.2,407.7 1836.7,400.4 1839.1,411.5 1841.6,406.2 1844,400.4 1846.5,382.5 1848.9,399.5 1851.4,392.4 1853.8,379.7 1856.3,384.6 1858.7,421.9 1861.2,430.3 1863.6,404.3 1866.1,423.2 1868.5,384.8 1871,395.8 1873.4,396.2 1875.9,380.8 1878.3,355.6 1880.8,375.2 1883.2,367.6 1885.7,399 1888.1,354 1890.6,398.2 1893,350 1895.5,366.3 1897.9,371.1 1900.4,382.2 1902.8,394.9 1905.3,362.2 1907.7,364.5 1910.2,391.6 1912.6,380.2 1915,362.7 1917.5,352.8 1919.9,356.8 1922.4,350 1924.8,382.1 1927.3,372.9 1929.7,314.6 1932.2,392.3 1934.6,385.8 1937.1,389.1 1939.5,386.8 1942,334.3 1944.4,335.8 1946.9,375.2 1949.3,321.7 1951.8,369.7 1954.2,334.9 1956.7,402.1 1959.1,355.7 1961.6,356.1 1964,379.2 1966.5,330.5 1968.9,347.6 1971.4,361.5 1973.8,378.3 1976.3,361.8 1978.7,343.3 1981.2,377.1 1983.6,363 1986.1,326.6 1988.5,358.9 1990.9,333.2 1993.4,365.1 1995.8,332.6 1998.3,338.3 2000.7,356.9 2003.2,356.1 2005.6,335.1 2008.1,333.8 2010.5,376.5 2013,340.9 2015.4,335.8 2017.9,316.7 2020.3,331.4 2022.8,376.3 2025.2,375.3 2027.7,368.5 2030.1,362.7 2032.6,335.6 2035,386.3 2037.5,328 2039.9,344.7 2042.4,338.6 2044.8,327.7 2047.3,362.7 2049.7,353.6 2052.2,305 2054.6,310.6 2057.1,339.7 2059.5,339.9 2062,296.8 2064.4,290.1 2066.9,312.9 2069.3,328 2071.7,319.3 2074.2,314.6 2076.6,301.3 2079.1,285.4 2081.5,361.6 2084,297.4 2086.4,302.4 2088.9,306.4 2091.3,328 2093.8,301.1 2096.2,345.9 2098.7,299.1 2101.1,290 2103.6,293.7 2106,320.2 2108.5,309.7 2110.9,293.5 2113.4,298.6 2115.8,279.2 2118.3,317.5 2120.7,289.1 2123.2,318.6 2125.6,319.6 2128.1,293.4 2130.5,254.4 2133,287.9 2135.4,298.7 2137.9,298.3 2140.3,282.5 2142.8,336 2145.2,323.1 2147.7,319.6 2150.1,315.7 2152.5,326.2 2155,282 2157.4,323.8 2159.9,279 2162.3,290.2 2164.8,292.6 2167.2,286.6 2169.7,297.6 2172.1,298.5 2174.6,302.2 2177,284 2179.5,309.5 2181.9,279 2184.4,285.8 2186.8,282.9 2189.3,261.7 2191.7,314.7 2194.2,299.3 2196.6,298.5 2199.1,307.1 2201.5,307.1 2204,247.2 2206.4,308.5 2208.9,277.3 2211.3,276 2213.8,285.8 2216.2,313.3 2218.7,319.9 2221.1,315.9 2223.6,283.4 2226,277.2 2228.4,278 2230.9,311.4 2233.3,268.9 2235.8,276.1 2238.2,254.7 2240.7,230.7 2243.1,273.6 2245.6,273.6 2248,302.3 2250.5,276.1 2252.9,259.9 2255.4,291.3 2257.8,263.5 2260.3,252.2 2262.7,241.2 2265.2,290.3 2267.6,248.8 2270.1,252.6 2272.5,239.7 2275,298.4 2277.4,249.5 2279.9,314.1 2282.3,252.4 2284.8,249 2287.2,299.1 2289.7,247.2 2292.1,222.6 2294.6,237.8 2297,224.7 2299.5,263.8 2301.9,273 2304.4,233.1 2306.8,272.7 2309.2,291.7 2311.7,269.6 2314.1,239.3 2316.6,274.5 2319,234.5 2321.5,246.7 2323.9,217 2326.4,260.2 2328.8,262.6 2331.3,225 2333.7,234.5 2336.2,246.1 2338.6,252.1 2341.1,276.5 2343.5,246.9 2346,206.7 2348.4,261.7 2350.9,216.3 2353.3,246.8 2355.8,254.3 2358.2,223.7 2360.7,220 2363.1,242.6 2365.6,257.6 2368,259.8 2370.5,239.5 2372.9,221 2375.4,231.3 2377.8,294.2 2380.3,249.3 2382.7,219 2385.2,236.3 2387.6,263.9 2390,252.5 2392.5,230.1 2394.9,233.3 2397.4,234.4 2399.8,190.2 2402.3,180.5 2404.7,232.7 2407.2,209.4 2409.6,262 2412.1,223.2 2414.5,191.9 2417,213.2 2419.4,211 2421.9,281.9 2424.3,221.7 2426.8,219.3 2429.2,254.8 2431.7,221.7 2434.1,224.9 2436.6,181.9 2439,226.8 2441.5,217.1 2443.9,207.4 2446.4,185.8 2448.8,227.3 2451.3,212.2 2453.7,199.8 2456.2,212 2458.6,209.1 2461.1,207 2463.5,253.7 2465.9,216.8 2468.4,235.6 2470.8,220.7 2473.3,243.8 2475.7,220.7 2478.2,187.2 2480.6,214 2483.1,195.4 2485.5,203.6 2488,195.9 2490.4,225.8 2492.9,198.1 2495.3,208.3 2497.8,208.4 2500.2,209.5 2502.7,179.3 2505.1,238.3 2507.6,235.6 2510,188.3 2512.5,178.1 2514.9,192.9 2517.4,152.5 2519.8,237.7 2522.3,204.9 2524.7,196.1 2527.2,187.5 2529.6,192.8 2532.1,194.9 2534.5,188.5 2537,199.1 2539.4,194.7 2541.9,197.5 2544.3,175 2546.7,198.7 2549.2,180.2 2551.6,190.1 2554.1,163.7 2556.5,179.1 2559,156.5 2561.4,189.7 2563.9,181.1 2566.3,176 2568.8,176.3 2571.2,183.5 2573.7,197.8 2576.1,171.8 2578.6,193.8 2581,184.7 2583.5,187.8 2585.9,164.3 2588.4,153.1 2590.8,195.1 2593.3,147.5 2595.7,192.4 2598.2,184.9 2600.6,154.4 2603.1,142.7 2605.5,204.1 2608,188.2 2610.4,140.5 2612.9,160.3 2615.3,177.5 2617.8,166.7 2620.2,162 2622.6,170.2 2625.1,156.5 2627.5,186.8 2630,137.6 2632.4,155.7 2634.9,179.4 2637.3,166.8 2639.8,132.7 2642.2,153.6 2644.7,145.8 2647.1,120.7 2649.6,169 2652,152.3 2654.5,173.5 2656.9,135.1 2659.4,163.4 2661.8,111.9 2664.3,152 2666.7,149.3 2669.2,95.6 2671.6,161.5 2674.1,161.4 2676.5,168 2679,189.6 2681.4,143.9 2683.9,130.2 2686.3,134.9 2688.8,119.9 2691.2,151.7 2693.7,174.1 2696.1,165.5 2698.6,153.8 2701,141.9 L2701,694.4 2698.6,659.9 2696.1,688.4 2693.7,693.6 2691.2,702.3 2688.8,711.3 2686.3,700.8 2683.9,688.9 2681.4,724.7 2679,692.3 2676.5,713.2 2674.1,670.4 2671.6,665.1 2669.2,729.6 2666.7,726.2 2664.3,691 2661.8,738.7 2659.4,689.7 2656.9,724.5 2654.5,670 2652,700.6 2649.6,734.1 2647.1,692.4 2644.7,720.8 2642.2,725.5 2639.8,717.2 2637.3,719.8 2634.9,694.5 2632.4,709.5 2630,707.9 2627.5,722.9 2625.1,708.1 2622.6,723 2620.2,759 2617.8,731.3 2615.3,720.7 2612.9,723.3 2610.4,723 2608,719.1 2605.5,741.7 2603.1,749.8 2600.6,756.4 2598.2,692.1 2595.7,751.2 2593.3,738.2 2590.8,731.6 2588.4,751.1 2585.9,741.2 2583.5,767.8 2581,722.5 2578.6,722.4 2576.1,735.4 2573.7,702.5 2571.2,720 2568.8,730.8 2566.3,717.8 2563.9,746 2561.4,715.2 2559,720 2556.5,754.6 2554.1,727.1 2551.6,746.7 2549.2,730.5 2546.7,775.1 2544.3,740.1 2541.9,738.2 2539.4,765.9 2537,725.7 2534.5,748.7 2532.1,731.4 2529.6,748.7 2527.2,733.4 2524.7,746.5 2522.3,760.9 2519.8,751.6 2517.4,799.1 2514.9,767 2512.5,756.6 2510,743.1 2507.6,770.6 2505.1,793 2502.7,796.6 2500.2,778.2 2497.8,743.5 2495.3,772.7 2492.9,780.7 2490.4,792.8 2488,736.9 2485.5,769.1 2483.1,755.1 2480.6,743.4 2478.2,770 2475.7,741.8 2473.3,792.4 2470.8,783.5 2468.4,736.4 2465.9,814.1 2463.5,779.3 2461.1,756.8 2458.6,767.6 2456.2,782.3 2453.7,773.3 2451.3,782.9 2448.8,784.3 2446.4,755.8 2443.9,759.7 2441.5,728.2 2439,780.2 2436.6,730.7 2434.1,747.1 2431.7,773.2 2429.2,754.4 2426.8,798.6 2424.3,786.2 2421.9,768.2 2419.4,785.9 2417,765.4 2414.5,744.9 2412.1,810.1 2409.6,819.7 2407.2,774.2 2404.7,782.7 2402.3,799.9 2399.8,773.8 2397.4,792 2394.9,801.5 2392.5,795.8 2390,744.2 2387.6,780.4 2385.2,771.7 2382.7,786.8 2380.3,776.7 2377.8,807.4 2375.4,794.9 2372.9,785.5 2370.5,785.5 2368,815.1 2365.6,797.9 2363.1,803.9 2360.7,813.6 2358.2,820.1 2355.8,829.4 2353.3,814.1 2350.9,806.6 2348.4,787.4 2346,783.7 2343.5,790.5 2341.1,824.6 2338.6,784.9 2336.2,840.4 2333.7,810.8 2331.3,789.8 2328.8,803.2 2326.4,841.7 2323.9,798.9 2321.5,818.4 2319,771.6 2316.6,783.8 2314.1,806.7 2311.7,777.2 2309.2,825.1 2306.8,777.6 2304.4,829.1 2301.9,817.5 2299.5,802.8 2297,793.4 2294.6,840.8 2292.1,838.4 2289.7,810.8 2287.2,816.4 2284.8,846.2 2282.3,787.3 2279.9,844 2277.4,817.9 2275,813.5 2272.5,849.2 2270.1,811.7 2267.6,849.4 2265.2,856.6 2262.7,840.4 2260.3,849.1 2257.8,831.1 2255.4,865.6 2252.9,862 2250.5,825.3 2248,836.1 2245.6,831.2 2243.1,886.5 2240.7,847 2238.2,813.7 2235.8,828.8 2233.3,799.5 2230.9,849.3 2228.4,826.5 2226,825.4 2223.6,843.5 2221.1,862.8 2218.7,878.3 2216.2,843.9 2213.8,846.6 2211.3,833.6 2208.9,850 2206.4,843.2 2204,820.9 2201.5,849.1 2199.1,837.5 2196.6,824.5 2194.2,852 2191.7,859 2189.3,814.8 2186.8,871.1 2184.4,872.3 2181.9,847.4 2179.5,822.4 2177,838.8 2174.6,811.7 2172.1,861.2 2169.7,847.7 2167.2,838.5 2164.8,845.8 2162.3,833.7 2159.9,841 2157.4,845.8 2155,831.8 2152.5,849.1 2150.1,863.3 2147.7,868.7 2145.2,847.7 2142.8,872.9 2140.3,839.5 2137.9,891.8 2135.4,882.4 2133,838.6 2130.5,866.4 2128.1,869 2125.6,852.1 2123.2,856.1 2120.7,883.5 2118.3,893 2115.8,867.5 2113.4,890.7 2110.9,908.3 2108.5,847.8 2106,872.8 2103.6,875.2 2101.1,926.9 2098.7,835.9 2096.2,883.8 2093.8,858.1 2091.3,878.4 2088.9,895.8 2086.4,848.8 2084,887.7 2081.5,884.9 2079.1,874.2 2076.6,886 2074.2,887.8 2071.7,886.5 2069.3,897.9 2066.9,882.4 2064.4,904 2062,882.8 2059.5,918.9 2057.1,853.5 2054.6,854.4 2052.2,870.1 2049.7,929.5 2047.3,873.5 2044.8,903.7 2042.4,929.4 2039.9,902.4 2037.5,883.9 2035,900.8 2032.6,895.4 2030.1,927.8 2027.7,879.9 2025.2,913.3 2022.8,883.9 2020.3,885.6 2017.9,914.7 2015.4,924.7 2013,918.5 2010.5,905.1 2008.1,911 2005.6,916.7 2003.2,894 2000.7,891.3 1998.3,905.1 1995.8,912.3 1993.4,876.2 1990.9,933.2 1988.5,962.1 1986.1,916.8 1983.6,886.2 1981.2,938.5 1978.7,922.7 1976.3,950.1 1973.8,906.5 1971.4,948.7 1968.9,929.6 1966.5,932.5 1964,920.2 1961.6,939.2 1959.1,925.3 1956.7,960.8 1954.2,942.6 1951.8,951.5 1949.3,948.8 1946.9,902.2 1944.4,922.1 1942,916.9 1939.5,941.3 1937.1,917.7 1934.6,956.8 1932.2,933.9 1929.7,932.2 1927.3,909.9 1924.8,956.8 1922.4,889.8 1919.9,917.5 1917.5,942.6 1915,922.1 1912.6,902.9 1910.2,946.6 1907.7,961.3 1905.3,919 1902.8,912.6 1900.4,906.8 1897.9,897.7 1895.5,945.8 1893,924.8 1890.6,928.9 1888.1,959.7 1885.7,963.1 1883.2,926.1 1880.8,921.3 1878.3,965.1 1875.9,948.2 1873.4,954 1871,973.2 1868.5,925.8 1866.1,944.2 1863.6,960.2 1861.2,979.8 1858.7,944.9 1856.3,962.1 1853.8,949.8 1851.4,969.9 1848.9,962.5 1846.5,916.8 1844,970.2 1841.6,945.4 1839.1,971.7 1836.7,930.5 1834.2,976.1 1831.8,930 1829.4,990.6 1826.9,974 1824.5,931.4 1822,954.4 1819.6,983.8 1817.1,991 1814.7,949.4 1812.2,978.9 1809.8,961.7 1807.3,960 1804.9,977.7 1802.4,953.3 1800,934.3 1797.5,985.4 1795.1,987.1 1792.6,947.4 1790.2,984.1 1787.7,1019.1 1785.3,1002.9 1782.8,994.1 1780.4,975.3 1777.9,974.8 1775.5,919.8 1773,975.7 1770.6,965.3 1768.1,970.4 1765.7,974.5 1763.2,1004.2 1760.8,992.7 1758.3,984 1755.9,958.4 1753.5,976.2 1751,995.2 1748.6,1014 1746.1,985.7 1743.7,1003.5 1741.2,971.6 1738.8,991.2 1736.3,974.5 1733.9,959.5 1731.4,958.2 1729,992.2 1726.5,998 1724.1,965.6 1721.6,1007.2 1719.2,953.6 1716.7,1020.4 1714.3,1003.9 1711.8,963 1709.4,968.1 1706.9,996.4 1704.5,1005.3 1702,1025.4 1699.6,1001.3 1697.1,1019 1694.7,1026.2 1692.2,992.5 1689.8,1012.9 1687.3,963.9 1684.9,1009.3 1682.4,954.8 1680,981 1677.5,1047.7 1675.1,992.7 1672.7,987.9 1670.2,958.3 1667.8,1021.8 1665.3,1005.5 1662.9,1005.5 1660.4,1037.9 1658,986.4 1655.5,1003.7 1653.1,996.2 1650.6,975.9 1648.2,1041.6 1645.7,1019.3 1643.3,1023.8 1640.8,993.3 1638.4,993.5 1635.9,1018.2 1633.5,986.3 1631,1030.7 1628.6,1034.6 1626.1,1008.2 1623.7,1019.1 1621.2,1047 1618.8,1017.8 1616.3,1024.5 1613.9,1035.7 1611.4,1032.2 1609,1031.4 1606.5,1068.7 1604.1,1013.7 1601.6,1009.7 1599.2,1020.5 1596.7,1030.4 1594.3,1038.2 1591.9,1004.6 1589.4,1046.7 1587,1042.7 1584.5,1067.2 1582.1,1016.8 1579.6,1026.3 1577.2,1060.4 1574.7,1046.6 1572.3,1036 1569.8,1032.9 1567.4,1047.8 1564.9,1034.5 1562.5,1024.4 1560,1041.8 1557.6,1041.2 1555.1,1025.7 1552.7,997.4 1550.2,1028.4 1547.8,1036.7 1545.3,1048.2 1542.9,1070.7 1540.4,1043.7 1538,1031 1535.5,1032.1 1533.1,1085.9 1530.6,1028.2 1528.2,1030.7 1525.7,1035.3 1523.3,1066.6 1520.8,1081.7 1518.4,1013.4 1516,1092.4 1513.5,1056.2 1511.1,1053.4 1508.6,1069.8 1506.2,1054.9 1503.7,1046 1501.3,1047.2 1498.8,1045.9 1496.4,1065.8 1493.9,1014.3 1491.5,1053.8 1489,1063.2 1486.6,1114.4 1484.1,1025.6 1481.7,1010.7 1479.2,1060.3 1476.8,1063.8 1474.3,1064.5 1471.9,1031.2 1469.4,1060.2 1467,1066.8 1464.5,1079.7 1462.1,1084 1459.6,1071 1457.2,1073.4 1454.7,1036.2 1452.3,1072.6 1449.8,1076.4 1447.4,1080.1 1444.9,1087 1442.5,1087.3 1440,1063 1437.6,1061.2 1435.2,1068.2 1432.7,1071.9 1430.3,1084.8 1427.8,1036.8 1425.4,1090.2 1422.9,1078.2 1420.5,1100.9 1418,1070.7 1415.6,1104.5 1413.1,1069.5 1410.7,1073.5 1408.2,1069 1405.8,1076.7 1403.3,1087 1400.9,1067.9 1398.4,1097.6 1396,1039.3 1393.5,1103.9 1391.1,1083.9 1388.6,1103.6 1386.2,1108.6 1383.7,1106.9 1381.3,1058.9 1378.8,1095.9 1376.4,1097.2 1373.9,1118.1 1371.5,1112.9 1369,1098.1 1366.6,1083.9 1364.1,1108 1361.7,1047.9 1359.3,1115.7 1356.8,1124.1 1354.4,1147.2 1351.9,1110.4 1349.5,1128.8 1347,1096.4 1344.6,1119.3 1342.1,1108.2 1339.7,1081.1 1337.2,1118.5 1334.8,1095.2 1332.3,1108.8 1329.9,1097.2 1327.4,1136 1325,1120.2 1322.5,1129.2 1320.1,1095.4 1317.6,1108.7 1315.2,1147.3 1312.7,1097.1 1310.3,1105.9 1307.8,1110.4 1305.4,1124.4 1302.9,1120.5 1300.5,1079.7 1298,1123.6 1295.6,1118 1293.1,1092.1 1290.7,1119.3 1288.2,1158.7 1285.8,1113 1283.3,1156.3 1280.9,1137.9 1278.5,1110.3 1276,1116.5 1273.6,1111.1 1271.1,1117.1 1268.7,1087.8 1266.2,1106.7 1263.8,1148.7 1261.3,1107.7 1258.9,1142.9 1256.4,1138.6 1254,1091.3 1251.5,1181.5 1249.1,1137.8 1246.6,1140.5 1244.2,1165.5 1241.7,1126.7 1239.3,1152.5 1236.8,1125 1234.4,1105.9 1231.9,1106.6 1229.5,1132.7 1227,1148.9 1224.6,1149.7 1222.1,1127.2 1219.7,1163.8 1217.2,1140.4 1214.8,1128.5 1212.3,1144.2 1209.9,1158.8 1207.4,1176.5 1205,1138.3 1202.5,1159.9 1200.1,1104.3 1197.7,1140.4 1195.2,1150.1 1192.8,1143.5 1190.3,1169.4 1187.9,1147.7 1185.4,1169.3 1183,1184.4 1180.5,1159.8 1178.1,1134.5 1175.6,1183.5 1173.2,1152.1 1170.7,1153 1168.3,1174.9 1165.8,1158.7 1163.4,1170.8 1160.9,1142 1158.5,1154.4 1156,1203.3 1153.6,1153.5 1151.1,1092.8 1148.7,1137.7 1146.2,1170.6 1143.8,1169 1141.3,1217.3 1138.9,1181.3 1136.4,1124.1 1134,1187.3 1131.5,1167.9 1129.1,1215.6 1126.6,1202.3 1124.2,1156.7 1121.8,1167.3 1119.3,1170.8 1116.9,1140.6 1114.4,1160.6 1112,1191.2 1109.5,1179.4 1107.1,1135.4 1104.6,1183.1 1102.2,1176.7 1099.7,1181 1097.3,1170.2 1094.8,1193.6 1092.4,1164.2 1089.9,1172.7 1087.5,1201.8 1085,1179.8 1082.6,1191.4 1080.1,1178.9 1077.7,1188.7 1075.2,1161 1072.8,1196.1 1070.3,1172.4 1067.9,1231.3 1065.4,1196 1063,1194.8 1060.5,1161.6 1058.1,1178.1 1055.6,1186.1 1053.2,1198.4 1050.7,1189.1 1048.3,1157.5 1045.8,1222 1043.4,1193.8 1041,1180.9 1038.5,1201.8 1036.1,1193.2 1033.6,1185.8 1031.2,1210.4 1028.7,1213.3 1026.3,1188.5 1023.8,1199.2 1021.4,1198.5 1018.9,1207.4 1016.5,1214.7 1014,1215.3 1011.6,1182.9 1009.1,1186.5 1006.7,1220.4 1004.2,1213 1001.8,1214.6 999.3,1210.5 996.9,1170.5 994.4,1208.9 992,1251.3 989.5,1220.4 987.1,1203.8 984.6,1197.5 982.2,1210 979.7,1244.3 977.3,1216.9 974.8,1209.8 972.4,1221.4 969.9,1187.2 967.5,1194.9 965.1,1211.2 962.6,1209 960.2,1186.5 957.7,1195.3 955.3,1256.1 952.8,1220.2 950.4,1237.5 947.9,1268.2 945.5,1245.9 943,1230.2 940.6,1241 938.1,1225.3 935.7,1240.6 933.2,1217.3 930.8,1213.6 928.3,1219.8 925.9,1229.5 923.4,1264.9 921,1244.8 918.5,1236.5 916.1,1232.6 913.6,1233.2 911.2,1275.9 908.7,1213.9 906.3,1213.4 903.8,1232.6 901.4,1255.4 898.9,1262.8 896.5,1284.7 894,1243.6 891.6,1191.9 889.1,1242.6 886.7,1234.4 884.3,1233.3 881.8,1244.4 879.4,1240.7 876.9,1229 874.5,1217.4 872,1251.1 869.6,1244.7 867.1,1229.7 864.7,1259.7 862.2,1241.9 859.8,1221.4 857.3,1253.6 854.9,1251.1 852.4,1196.7 850,1238.4 847.5,1259.7 845.1,1238.1 842.6,1247.8 840.2,1254.3 837.7,1223.8 835.3,1256.4 832.8,1235.4 830.4,1247.6 827.9,1281.7 825.5,1273.2 823,1264.9 820.6,1232.6 818.1,1240.1 815.7,1226.9 813.2,1261.8 810.8,1282.3 808.3,1227.9 805.9,1247.4 803.5,1276.1 801,1238.2 798.6,1266.1 796.1,1279.3 793.7,1228.5 791.2,1240.2 788.8,1257.6 786.3,1284.6 783.9,1272.7 781.4,1283.2 779,1273.6 776.5,1296.4 774.1,1278.3 771.6,1275.4 769.2,1293.5 766.7,1328.7 764.3,1273.2 761.8,1329.2 759.4,1297.1 756.9,1301.1 754.5,1295 752,1259.5 749.6,1301.3 747.1,1294.6 744.7,1297.5 742.2,1287.6 739.8,1295.2 737.3,1258.2 734.9,1317.8 732.4,1234.4 730,1302.5 727.6,1289.7 725.1,1269.9 722.7,1286.2 720.2,1311.8 717.8,1266.2 715.3,1295.7 712.9,1296 710.4,1293.6 708,1277.8 705.5,1310.9 703.1,1300 700.6,1304.1 698.2,1294.8 695.7,1308.5 693.3,1283.8 690.8,1304.7 688.4,1316.4 685.9,1320.7 683.5,1274.8 681,1323.2 678.6,1283.7 676.1,1307.5 673.7,1291.3 671.2,1341.5 668.8,1292 666.3,1327.5 663.9,1318 661.4,1316.8 659,1318.6 656.5,1257.9 654.1,1333.3 651.6,1294.4 649.2,1314 646.8,1305.5 644.3,1309.5 641.9,1330.6 639.4,1313.1 637,1333.6 634.5,1313.9 632.1,1330.9 629.6,1366.3 627.2,1283.4 624.7,1309.9 622.3,1346.2 619.8,1279 617.4,1334.7 614.9,1328.7 612.5,1337.9 610,1314.5 607.6,1306.9 605.1,1319.6 602.7,1287 600.2,1333.1 597.8,1334.6 595.3,1325.7 592.9,1313.4 590.4,1318.2 588,1317.5 585.5,1307.4 583.1,1347.8 580.6,1348.3 578.2,1321.2 575.7,1355.4 573.3,1309.5 570.8,1355.4 568.4,1337 566,1341.5 563.5,1337 561.1,1338.1 558.6,1360.4 556.2,1318.1 553.7,1358.1 551.3,1373.4 548.8,1362.8 546.4,1369.2 543.9,1360.1 541.5,1331.9 539,1361.3 536.6,1337.9 534.1,1341.1 531.7,1349.6 529.2,1368.2 526.8,1345 524.3,1379 521.9,1329.6 519.4,1359 517,1339.4 514.5,1380.4 512.1,1349.4 509.6,1384.9 507.2,1386.2 504.7,1332.4 502.3,1337.1 499.8,1371.6 497.4,1328 494.9,1338.8 492.5,1328.6 490.1,1372.3 487.6,1374.4 485.2,1355.7 482.7,1338.8 480.3,1356.6 477.8,1393.9 475.4,1366.8 472.9,1368.5 470.5,1389.3 468,1336.3 465.6,1337.9 463.1,1314 460.7,1380.8 458.2,1362 455.8,1399.6 453.3,1389.6 450.9,1347.9 448.4,1362.3 446,1371.5 443.5,1371.5 441.1,1381.3 438.6,1364.5 436.2,1388.8 433.7,1381.2 431.3,1382 428.8,1326.6 426.4,1386.3 423.9,1397.8 421.5,1372.6 419,1387.3 416.6,1392.9 414.1,1382.3 411.7,1388.6 409.3,1395.2 406.8,1387.3 404.4,1402.4 401.9,1398.6 399.5,1361.3 397,1366.9 394.6,1382.2 392.1,1386.2 389.7,1380.7 387.2,1409.3 384.8,1391.6 382.3,1383.5 379.9,1415.4 377.4,1406.3 375,1391 372.5,1426.9 370.1,1415.9 367.6,1360 365.2,1384.3 362.7,1408.3 360.3,1424 357.8,1410.1 355.4,1412.2 352.9,1409.3 350.5,1404.5 348,1421.6 345.6,1388.1 343.1,1353.2 340.7,1415.8 338.2,1409.8 335.8,1365.1 333.4,1395.8 330.9,1381.9 328.5,1395.7 326,1382.7 323.6,1416.6 321.1,1429 318.7,1427.4 316.2,1410.3 313.8,1396 311.3,1406.6 308.9,1439.9 306.4,1384.7 304,1420.1 301.5,1440.4 299.1,1397.6 296.6,1422.4 294.2,1416 291.7,1404.1 289.3,1443.6 286.8,1454.7 284.4,1429 281.9,1409 279.5,1421.7 277,1413.9 274.6,1389.2 272.1,1434.7 269.7,1442.6 267.2,1429.9 264.8,1431.9 262.3,1436.2 259.9,1424.2 257.4,1422.9 255,1440.1Z"/>
</g>
<rect x="157" y="157" width="2642" height="1183" fill="none" stroke="#000" stroke-width="2"/>
<line x1="173" y1="1340" x2="173" y2="1360" stroke="#000" stroke-width="2"/>
<text x="173" y="1410" font-size="33" text-anchor="middle">30</text>
<line x1="556" y1="1340" x2="556" y2="1360" stroke="#000" stroke-width="2"/>
<text x="556" y="1410" font-size="33" text-anchor="middle">35</text>
<line x1="939" y1="1340" x2="939" y2="1360" stroke="#000" stroke-width="2"/>
<text x="939" y="1410" font-size="33" text-anchor="middle">40</text>
<line x1="1322" y1="1340" x2="1322" y2="1360" stroke="#000" stroke-width="2"/>
<text x="1322" y="1410" font-size="33" text-anchor="middle">45</text>
<line x1="1706" y1="1340" x2="1706" y2="1360" stroke="#000" stroke-width="2"/>
<text x="1706" y="1410" font-size="33" text-anchor="middle">50</text>
<line x1="2089" y1="1340" x2="2089" y2="1360" stroke="#000" stroke-width="2"/>
<text x="2089" y="1410" font-size="33" text-anchor="middle">55</text>
<line x1="2472" y1="1340" x2="2472" y2="1360" stroke="#000" stroke-width="2"/>
<text x="2472" y="1410" font-size="33" text-anchor="middle">60</text>
<line x1="138" y1="1206" x2="157" y2="1206" stroke="#000" stroke-width="2"/>
<text x="112" y="1206" font-size="33" text-anchor="middle" transform="rotate(-90 112 1206)">140</text>
<line x1="138" y1="949" x2="157" y2="949" stroke="#000" stroke-width="2"/>
<text x="112" y="949" font-size="33" text-anchor="middle" transform="rotate(-90 112 949)">150</text>
<line x1="138" y1="692" x2="157" y2="692" stroke="#000" stroke-width="2"/>
<text x="112" y="692" font-size="33" text-anchor="middle" transform="rotate(-90 112 692)">160</text>
<line x1="138" y1="434" x2="157" y2="434" stroke="#000" stroke-width="2"/>
<text x="112" y="434" font-size="33" text-anchor="middle" transform="rotate(-90 112 434)">170</text>
<line x1="138" y1="177" x2="157" y2="177" stroke="#000" stroke-width="2"/>
<text x="112" y="177" font-size="33" text-anchor="middle" transform="rotate(-90 112 177)">180</text>
<text x="1477.5" y="93" font-size="37.9" font-weight="bold" text-anchor="middle">Reduced Model</text>
<text x="1477" y="1487" font-size="33" text-anchor="middle">X</text>
<text x="35" y="748.5" font-size="33" text-anchor="middle" transform="rotate(-90 35 748.5)">Y</text>
</svg></body></html>
